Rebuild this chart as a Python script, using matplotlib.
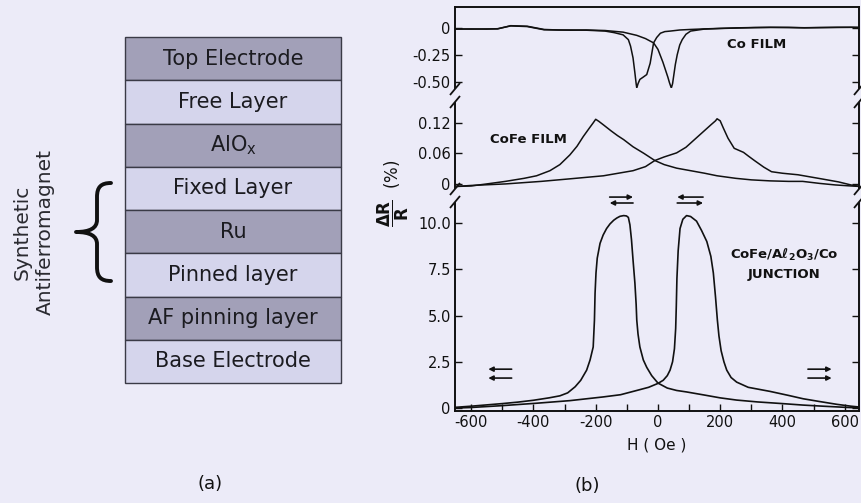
import matplotlib
matplotlib.use("Agg")
import matplotlib.pyplot as plt
from matplotlib.path import Path
from matplotlib.patches import PathPatch

# ---------------------------------------------------------------- data
layer_names = ["Top Electrode", "Free Layer", r"AlO$_{\mathregular{x}}$", "Fixed Layer",
               "Ru", "Pinned layer", "AF pinning layer", "Base Electrode"]
layer_shade = ["dark", "light", "dark", "light", "dark", "light", "dark", "light"]

# Co film, magnetoresistance (%) vs H (Oe), two sweep branches
co_h_a = [-650, -600, -550, -515, -473, -420, -366, -320, -280, -230,
          -170, -140, -112, -95, -88, -80, -74, -70, -68, -64,
          -58, -48, -36, -25, -14, -4, 8, 22, 40, 70,
          105, 148, 200, 254, 310, 362, 420, 470, 520, 577, 620, 650]
co_mr_a = [-0.01, -0.012, -0.01, -0.01, 0.02, 0.015, -0.015, -0.02, -0.02, -0.022,
           -0.03, -0.045, -0.065, -0.11, -0.17, -0.28, -0.42, -0.52, -0.56, -0.52,
           -0.48, -0.46, -0.435, -0.33, -0.14, -0.09, -0.05, -0.035, -0.03, -0.02,
           -0.015, -0.01, -0.005, 0.0, 0.003, 0.005, 0.003, 0.0, 0.002, 0.005, 0.005, 0.004]
co_h_b = [-650, -600, -550, -515, -473, -420, -366, -320, -280, -230,
          -170, -112, -68, -40, -14, 0, 8, 16, 24, 32,
          37, 43, 47, 51, 56, 62, 70, 78, 90, 105,
          148, 200, 254, 310, 362, 420, 470, 520, 577, 620, 650]
co_mr_b = [-0.012, -0.01, -0.012, -0.008, 0.018, 0.012, -0.018, -0.02, -0.022, -0.02,
           -0.025, -0.04, -0.07, -0.1, -0.14, -0.2, -0.26, -0.32, -0.39, -0.46,
           -0.51, -0.56, -0.52, -0.44, -0.34, -0.25, -0.16, -0.11, -0.06, -0.03,
           -0.012, -0.006, -0.002, 0.002, 0.004, 0.004, 0.001, 0.003, 0.004, 0.005, 0.003]

# CoFe film
cofe_h_a = [-650, -600, -550, -490, -430, -390, -347, -315, -283, -260,
            -240, -220, -208, -200, -190, -175, -150, -130, -110, -80,
            -45, -10, 20, 60, 105, 150, 190, 250, 300, 360,
            420, 465, 520, 570, 620, 650]
cofe_mr_a = [-0.005, -0.004, 0.0, 0.005, 0.011, 0.016, 0.026, 0.038, 0.057, 0.074,
             0.093, 0.11, 0.12, 0.127, 0.123, 0.116, 0.104, 0.095, 0.087, 0.073,
             0.06, 0.046, 0.038, 0.031, 0.026, 0.021, 0.016, 0.011, 0.008, 0.006,
             0.005, 0.005, 0.001, -0.002, -0.004, -0.005]
cofe_h_b = [-650, -600, -490, -375, -283, -175, -80, -40, -10, 20,
            60, 90, 110, 130, 150, 170, 185, 190, 200, 210,
            225, 245, 260, 275, 290, 310, 340, 365, 400, 450,
            525, 580, 620, 650]
cofe_mr_b = [-0.005, -0.003, 0.0, 0.005, 0.01, 0.016, 0.026, 0.034, 0.046, 0.053,
             0.061, 0.072, 0.083, 0.094, 0.105, 0.116, 0.124, 0.128, 0.124, 0.11,
             0.09, 0.07, 0.066, 0.062, 0.055, 0.046, 0.033, 0.024, 0.021, 0.018,
             0.01, 0.004, -0.002, -0.005]

# CoFe/Al2O3/Co tunnel junction
jn_h_a = [-650, -600, -550, -500, -450, -400, -350, -315, -290, -266,
          -248, -229, -218, -208, -204, -202, -199, -195, -186, -176,
          -165, -154, -142, -132, -122, -110, -101, -95, -90, -85,
          -80, -74, -70, -68, -64, -58, -47, -36, -20, 0,
          30, 60, 92, 150, 200, 253, 320, 400, 466, 530, 600, 650]
jn_mr_a = [0.04, 0.1, 0.17, 0.24, 0.32, 0.42, 0.55, 0.66, 0.82, 1.15,
           1.5, 2.05, 2.6, 3.3, 4.75, 6.2, 7.3, 8.1, 8.9, 9.35,
           9.7, 9.95, 10.15, 10.27, 10.36, 10.4, 10.38, 10.3, 9.9, 9.1,
           8.0, 6.75, 5.6, 4.75, 4.0, 3.3, 2.6, 2.2, 1.75, 1.35,
           1.08, 0.95, 0.87, 0.7, 0.55, 0.43, 0.33, 0.24, 0.16, 0.1, 0.04, 0.0]
jn_h_b = [-650, -600, -500, -390, -283, -176, -120, -68, -30, 0,
          17, 30, 39, 47, 53, 57, 59, 61, 65, 71,
          80, 92, 105, 124, 140, 157, 170, 178, 185, 191,
          196, 203, 212, 221, 235, 253, 290, 360, 420, 467,
          520, 575, 620, 650]
jn_mr_b = [0.0, 0.03, 0.13, 0.26, 0.4, 0.6, 0.72, 0.95, 1.12, 1.33,
           1.5, 1.75, 2.05, 2.5, 3.2, 4.3, 5.5, 7.0, 8.5, 9.7,
           10.2, 10.4, 10.35, 10.1, 9.6, 9.0, 8.2, 7.3, 6.0, 4.75,
           3.9, 3.1, 2.5, 2.05, 1.65, 1.4, 1.12, 0.9, 0.68, 0.5,
           0.35, 0.2, 0.1, 0.05]

co_ticks = [0, -0.25, -0.50]
co_ticklabels = ["0", "-0.25", "-0.50"]
cofe_ticks = [0, 0.06, 0.12]
cofe_ticklabels = ["0", "0.06", "0.12"]
jn_ticks = [0, 2.5, 5.0, 7.5, 10.0]
jn_ticklabels = ["0", "2.5", "5.0", "7.5", "10.0"]
h_major = [-600, -400, -200, 0, 200, 400, 600]
h_labels = ["-600", "-400", "-200", "0", "200", "400", "600"]
h_minor = [-500, -300, -100, 100, 300, 500]

# magnetisation-direction arrows: (H start, H end, level)
moment_arrows = [(-470, -545, 2.1), (-470, -545, 1.62),
                 (482, 558, 2.1), (482, 558, 1.62),
                 (-155, -80, 11.4), (-80, -155, 11.08),
                 (145, 62, 11.4), (62, 145, 11.08)]

# ---------------------------------------------------------------- style
W, H = 862, 503
BG = "#ECEBF8"
DARK = "#A2A0B8"
LIGHT = "#D5D5EC"
INK = "#111111"
plt.rcParams["font.family"] = ["DejaVu Sans"]
plt.rcParams["mathtext.fontset"] = "dejavusans"

fig = plt.figure(figsize=(W / 100, H / 100), dpi=100, facecolor=BG)


def add_px_axes(x0, y0, x1, y1):
    ax = fig.add_axes([x0 / W, 1 - y1 / H, (x1 - x0) / W, (y1 - y0) / H])
    ax.patch.set_visible(False)
    return ax


# ---------------------------------------------------------------- (a) layer stack
ax_a = add_px_axes(125, 37, 341, 383)
n = len(layer_names)
fill = [DARK if s == "dark" else LIGHT for s in layer_shade]
bars = ax_a.barh(range(n), [1] * n, height=1.0, left=0, color=fill,
                 edgecolor="#3a3a46", linewidth=1.0)
for b in bars:
    b.set_clip_on(False)
for i, name in enumerate(layer_names):
    ax_a.text(0.5, i, name, ha="center", va="center", fontsize=15, color="#1b1b20")
ax_a.set_xlim(0, 1)
ax_a.set_ylim(n - 0.5, -0.5)
ax_a.axis("off")

# ---------------------------------------------------------------- (b) MR curves
xlim = (-652, 646)
ax1 = add_px_axes(455, 7, 859, 88)
ax2 = add_px_axes(455, 103, 859, 188)
ax3 = add_px_axes(455, 203, 859, 411)

ax1.plot(co_h_a, co_mr_a, color=INK, lw=1.1)
ax1.plot(co_h_b, co_mr_b, color=INK, lw=1.1)
ax2.plot(cofe_h_a, cofe_mr_a, color=INK, lw=1.1)
ax2.plot(cofe_h_b, cofe_mr_b, color=INK, lw=1.1)
ax3.plot(jn_h_a, jn_mr_a, color=INK, lw=1.2)
ax3.plot(jn_h_b, jn_mr_b, color=INK, lw=1.2)

ax1.set_ylim(-0.56, 0.194)
ax2.set_ylim(-0.008, 0.159)
ax3.set_ylim(-0.16, 11.08)

for ax, ticks, labels in ((ax1, co_ticks, co_ticklabels),
                          (ax2, cofe_ticks, cofe_ticklabels),
                          (ax3, jn_ticks, jn_ticklabels)):
    ax.set_xlim(*xlim)
    ax.set_yticks(ticks)
    ax.set_yticklabels(labels)
    ax.tick_params(axis="y", direction="in", left=True, right=True, labelright=False,
                   length=5, width=1.0, labelsize=10.5, pad=3, colors=INK)
    for s in ax.spines.values():
        s.set_linewidth(1.4)
        s.set_color(INK)

ax1.spines["bottom"].set_visible(False)
ax1.set_xticks([])
ax2.spines["top"].set_visible(False)
ax2.spines["bottom"].set_visible(False)
ax2.set_xticks([])
ax3.spines["top"].set_visible(False)
ax3.set_xticks(h_major)
ax3.set_xticklabels(h_labels)
ax3.set_xticks(h_minor, minor=True)
ax3.tick_params(axis="x", which="both", direction="in", length=5, width=1.0,
                labelsize=10.5, pad=3, colors=INK, top=False)
ax3.set_xlabel("H ( Oe )", fontsize=11, labelpad=5, color=INK)

lab = dict(ha="center", va="center", fontsize=9.5, fontweight="bold", color=INK)
ax1.text(318, -0.157, "Co FILM", **lab)
ax2.text(-415, 0.087, "CoFe FILM", **lab)
ax3.text(405, 8.27, r"CoFe/A$\mathbf{\ell}_{\mathbf{2}}$O$_{\mathbf{3}}$/Co", **lab)
ax3.text(405, 7.19, "JUNCTION", **lab)

for h0, h1, lvl in moment_arrows:
    ax3.annotate("", xy=(h1, lvl), xytext=(h0, lvl), annotation_clip=False,
                 arrowprops=dict(arrowstyle="-|>", color=INK, lw=1.2,
                                 mutation_scale=7, shrinkA=0, shrinkB=0))

# ---------------------------------------------------------------- overlay (pixel coords)
ov = fig.add_axes([0, 0, 1, 1])
ov.set_xlim(0, W)
ov.set_ylim(H, 0)
ov.axis("off")
ov.patch.set_visible(False)

# axis breaks
for xb in (455, 859):
    for yb in (89, 102, 189, 202):
        ov.plot([xb - 5, xb + 5], [yb + 6, yb - 6], color=INK, lw=1.3,
                solid_capstyle="butt")

ov.text(393, 193, r"$\mathbf{\dfrac{\Delta R}{R}}$  (%)", rotation=90,
        ha="center", va="center", fontsize=12, color=INK)

# curly brace grouping the synthetic antiferromagnet layers
verts = [(111, 183), (101, 183), (97, 187), (97, 197),
         (97, 220),
         (97, 228), (90, 232), (76, 232),
         (90, 232), (97, 236), (97, 244),
         (97, 267),
         (97, 277), (101, 281), (111, 281)]
codes = ([Path.MOVETO] + [Path.CURVE4] * 3 + [Path.LINETO] + [Path.CURVE4] * 6 +
         [Path.LINETO] + [Path.CURVE4] * 3)
ov.add_patch(PathPatch(Path(verts, codes), fill=False, lw=2.8, edgecolor=INK,
                       capstyle="round", joinstyle="round"))

ov.text(34, 232, "Synthetic\nAntiferromagnet", rotation=90, ha="center", va="center",
        multialignment="center", fontsize=14.5, color="#2a2a30", linespacing=1.3)

ov.text(210, 484, "(a)", ha="center", va="center", fontsize=13, color=INK)
ov.text(587, 486, "(b)", ha="center", va="center", fontsize=13, color=INK)

fig.savefig("out.png", dpi=100, facecolor=BG)
